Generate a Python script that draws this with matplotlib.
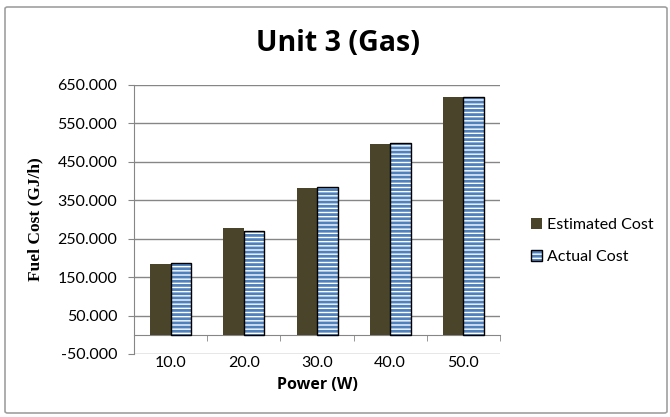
import numpy as np
import matplotlib
matplotlib.use('Agg')
import matplotlib.pyplot as plt
from matplotlib.patches import FancyBboxPatch

# 데이터
categories = ['10.0', '20.0', '30.0', '40.0', '50.0']
estimated_cost = [183.5, 278.0, 383.0, 496.5, 618.0]
actual_cost = [186.0, 271.0, 384.5, 498.0, 618.0]
y_ticks = [-50, 50, 150, 250, 350, 450, 550, 650]

plt.rcParams['font.family'] = ['Lato', 'DejaVu Sans']
plt.rcParams['hatch.linewidth'] = 2.0

fig = plt.figure(figsize=(6.7, 4.17), dpi=100)
# 바깥 테두리
fig.patches.append(FancyBboxPatch((5/670, 4/417), 662/670, 406/417,
                                  boxstyle='round,pad=0,rounding_size=0.004',
                                  transform=fig.transFigure, fill=False,
                                  edgecolor='#A0A0A0', linewidth=1.2))

ax = fig.add_axes([0.2, 0.1511, 0.5463, 0.6451])
x = np.arange(len(categories))
w = 0.28
b1 = ax.bar(x - w/2, estimated_cost, w, color='#4A442A', zorder=3)
# 줄무늬(파랑) + 검은 테두리 따로 그림
b2 = ax.bar(x + w/2, actual_cost, w, color='white', edgecolor='#4F81BD', hatch='----',
            linewidth=0, zorder=3)
b3 = ax.bar(x + w/2, actual_cost, w, fill=False, edgecolor='black', linewidth=1.0, zorder=4)

ax.set_xlim(-0.5, len(categories) - 0.5)
ax.set_ylim(-50, 650)
ax.set_yticks(y_ticks)
ax.set_yticklabels(['%.3f' % v for v in y_ticks], fontsize=11.5)
ax.grid(axis='y', color='#868686', linewidth=1.0, zorder=0)

# x축은 0에서, 라벨은 아래쪽
ax.spines['bottom'].set_position(('data', 0))
ax.spines['bottom'].set_color('#868686')
ax.spines['left'].set_color('#868686')
ax.spines['top'].set_visible(False)
ax.spines['right'].set_visible(False)
ax.set_xticks(x)
ax.set_xticklabels(categories, fontsize=11.5)
ax.set_xticks(np.arange(len(categories) + 1) - 0.5, minor=True)
ax.tick_params(axis='x', which='major', length=0, pad=15)
ax.tick_params(axis='x', which='minor', length=4, color='#868686')
ax.tick_params(axis='y', length=4, color='#868686', pad=8)

ax.set_xlabel('Power (W)', fontsize=11.5, fontweight='bold', family='Open Sans', labelpad=5)
ax.set_ylabel('Fuel Cost (GJ/h)', fontsize=12.5, fontweight='bold',
              family='Liberation Serif', labelpad=10)
fig.text(0.505, 0.895, 'Unit 3 (Gas)', fontsize=20.5, fontweight='bold',
         family='Open Sans', ha='center', va='center')

ax.legend([b1, (b2, b3)], ['Estimated Cost', 'Actual Cost'],
          loc='center left', bbox_to_anchor=(1.045, 0.42), frameon=False,
          fontsize=11.5, handlelength=0.7, handleheight=0.7,
          handletextpad=0.3, labelspacing=1.1)

plt.savefig('out.png', dpi=100)
